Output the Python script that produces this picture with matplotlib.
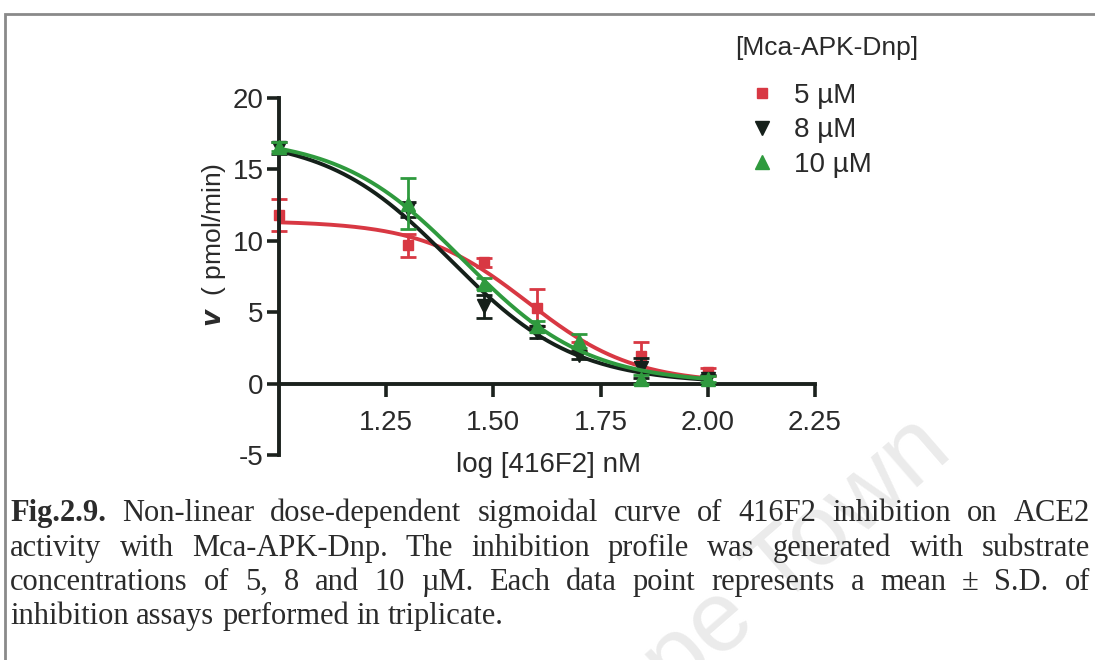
import numpy as np
import matplotlib
matplotlib.use("Agg")
import matplotlib.pyplot as plt
from matplotlib.lines import Line2D
from matplotlib.patches import Rectangle

plt.rcParams['font.family'] = ['Liberation Sans', 'DejaVu Sans']
plt.rcParams['axes.unicode_minus'] = False

# log [416F2] nM  (10, 20, 30, 40, 50, 70, 100 nM)
log_conc = [1.0, 1.301, 1.477, 1.602, 1.699, 1.845, 2.0]

series = ['5 \u00b5M', '8 \u00b5M', '10 \u00b5M']
v_5 = [11.8, 9.7, 8.5, 5.3, 2.6, 1.9, 0.8]
sd_5 = [1.1, 0.8, 0.3, 1.3, 0.3, 1.0, 0.3]
v_8 = [16.5, 12.2, 5.4, 3.6, 2.0, 1.1, 0.3]
sd_8 = [0.4, 0.5, 0.8, 0.4, 0.3, 0.7, 0.3]
v_10 = [16.6, 12.6, 7.0, 4.0, 3.0, 0.3, 0.3]
sd_10 = [0.3, 1.8, 0.4, 0.4, 0.5, 0.3, 0.2]

# sigmoidal fit parameters
fit_top = [11.4, 17.3, 17.3]
fit_bottom = [0.0, 0.0, 0.0]
fit_logic50 = [1.58, 1.40, 1.43]
fit_hill = [3.5, 3.0, 3.0]

colors = ['#d83843', '#15201a', '#2f9a3e']
markers = ['s', 'v', '^']
msizes = [7.5, 9.5, 9.5]

caption = [
    "Fig.2.9. Non-linear dose-dependent sigmoidal curve of 416F2 inhibition on ACE2",
    "activity with Mca-APK-Dnp. The inhibition profile was generated with substrate",
    "concentrations of 5, 8 and 10 \u00b5M. Each data point represents a mean \u00b1 S.D. of",
    "inhibition assays performed in triplicate.",
]

W, H = 1095, 660
fig = plt.figure(figsize=(W / 100, H / 100), dpi=100)

# watermark behind everything
fig.text(955 / W, 1 - 455 / H, 'University of Cape Town', rotation=41, rotation_mode='anchor',
         ha='right', va='baseline', fontsize=72, color='#ebebeb', zorder=-5,
         family='Liberation Sans')

ax = fig.add_axes([279 / W, 1 - 455 / H, (815 - 279) / W, (455 - 98) / H])
ax.patch.set_alpha(0)

axc = '#1b211d'
txtc = '#2a2a2a'
data = [(v_5, sd_5), (v_8, sd_8), (v_10, sd_10)]
xs = np.linspace(1.0, 2.0, 200)
for i, (v, sd) in enumerate(data):
    yfit = fit_bottom[i] + (fit_top[i] - fit_bottom[i]) / (1 + 10 ** ((xs - fit_logic50[i]) * fit_hill[i]))
    ax.plot(xs, yfit, color=colors[i], lw=2.8, zorder=2 + i, solid_capstyle='round')
    ax.errorbar(log_conc, v, yerr=sd, fmt=markers[i], color=colors[i], ms=msizes[i],
                capsize=6, elinewidth=2, capthick=2, zorder=2 + i, clip_on=False)

ax.set_xlim(1.0, 2.25)
ax.set_ylim(-5, 20)
ax.spines['top'].set_visible(False)
ax.spines['right'].set_visible(False)
ax.spines['bottom'].set_position(('data', 0))
for s in ['left', 'bottom']:
    ax.spines[s].set_linewidth(2.8)
    ax.spines[s].set_color(axc)
ax.set_xticks([1.25, 1.50, 1.75, 2.00, 2.25])
ax.set_xticklabels(['1.25', '1.50', '1.75', '2.00', '2.25'])
ax.set_yticks([-5, 0, 5, 10, 15, 20])
ax.tick_params(axis='both', direction='out', length=9, width=2.6, color=axc,
               labelsize=20, labelcolor=txtc)
ax.tick_params(axis='x', pad=10)
ax.tick_params(axis='y', pad=2)

fig.text(548 / W, 1 - 465 / H, 'log [416F2] nM', ha='center', va='center',
         fontsize=20, color=txtc)
fig.text(214 / W, 1 - 245 / H, '$\\mathbfit{v}$  ( pmol/min)', rotation=90,
         ha='center', va='center', fontsize=19, color=txtc)

# legend
fig.text(735 / W, 1 - 48 / H, '[Mca-APK-Dnp]', ha='left', va='center', fontsize=19, color=txtc)
handles = [Line2D([], [], ls='none', marker=markers[i], color=colors[i], ms=msizes[i])
           for i in range(3)]
leg = fig.legend(handles, series, loc='upper left',
                 bbox_to_anchor=(723 / W, 1 - 58 / H), frameon=False, fontsize=20,
                 handlelength=1.0, handletextpad=0.65, labelspacing=0.3)
for t in leg.get_texts():
    t.set_color(txtc)

# border of the scanned figure
fig.patches.append(Rectangle((5 / W, -0.1), 1.2, 1.1 - 14 / H, transform=fig.transFigure,
                             fill=False, edgecolor='#8a8a8a', lw=2))

# justified caption
renderer = fig.canvas.get_renderer()
x0, x1 = 10, 1090
baselines = [521, 556, 590, 624]
for li, line in enumerate(caption):
    words = line.split(' ')
    objs = []
    for wi, w in enumerate(words):
        bold = (li == 0 and wi == 0)
        objs.append(fig.text(0, 1 - baselines[li] / H, w, fontsize=22, family='Liberation Serif',
                             fontweight='bold' if bold else 'normal', color='#2b2b2b',
                             va='baseline', ha='left'))
    widths = [o.get_window_extent(renderer).width for o in objs]
    if li < len(caption) - 1:
        gap = (x1 - x0 - sum(widths)) / (len(words) - 1)
    else:
        gap = 0.25 * 22 * 100 / 72
    x = x0
    for o, wd in zip(objs, widths):
        o.set_x(x / W)
        x += wd + gap

fig.savefig('out.png', dpi=100)
